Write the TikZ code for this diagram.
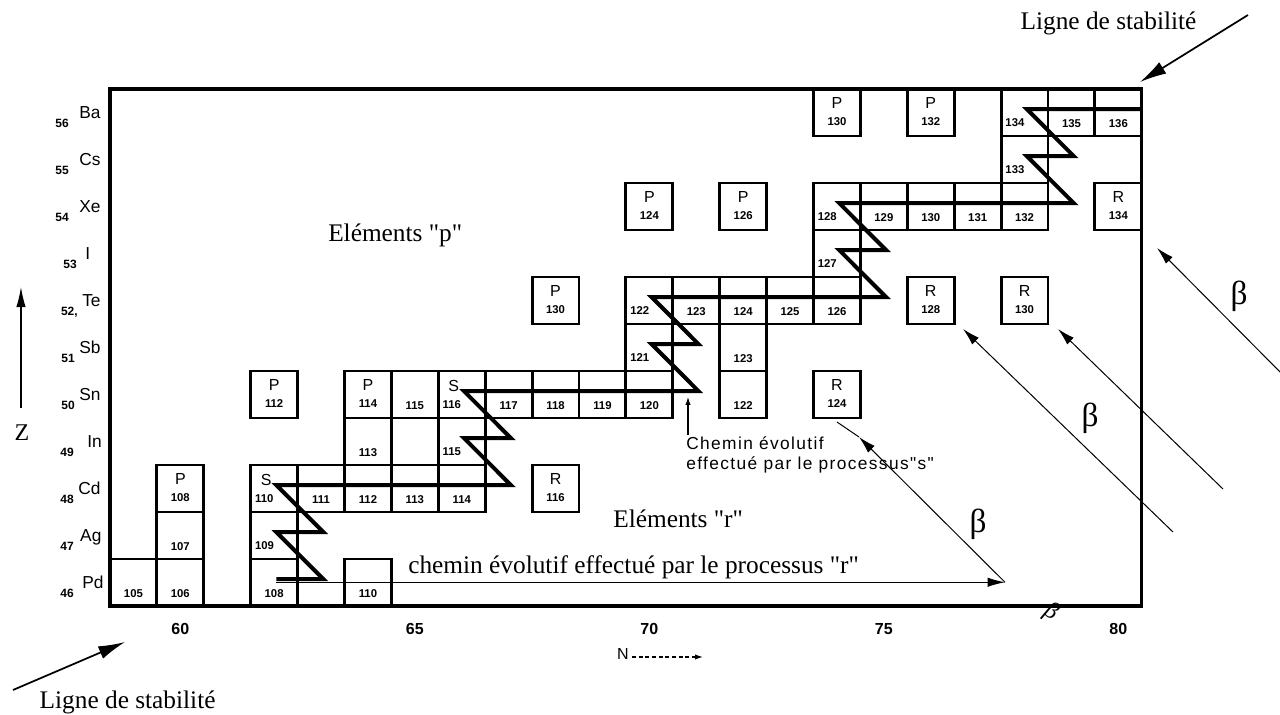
\documentclass[tikz,border=0pt]{standalone}
\usepackage{fontspec}
\setmainfont{Liberation Serif}[Ligatures=TeXOff]
\newfontfamily\sansf{Liberation Sans}
\newfontfamily\chemf{Liberation Sans}[LetterSpace=8]
\usetikzlibrary{arrows.meta}
\begin{document}
\begin{tikzpicture}[x=35.175pt,y=35.25pt,
 cellbox/.style={draw,line width=2.2pt,minimum width=35.175pt,minimum height=35.25pt,inner sep=0pt,outer sep=0pt},
 cnum/.style={font=\sansf\bfseries\fontsize{8.5}{9}\selectfont,inner sep=0pt,anchor=base},
 cnuml/.style={cnum,anchor=base west},
 clet/.style={font=\sansf\fontsize{12}{13}\selectfont,inner sep=0pt,anchor=base},
 elem/.style={font=\sansf\fontsize{13}{14}\selectfont,inner sep=0pt,anchor=base west},
 znum/.style={font=\sansf\bfseries\fontsize{9}{10}\selectfont,inner sep=0pt,anchor=base east},
 nnum/.style={font=\sansf\bfseries\fontsize{12}{13}\selectfont,inner sep=0pt,anchor=base},
 serif/.style={font=\fontsize{19}{22}\selectfont,inner sep=0pt},
 betalbl/.style={font=\fontsize{25}{28}\selectfont,inner sep=0pt},
 spath/.style={line width=3pt},
 thinarrow/.style={line width=0.75pt,-{Latex[length=13pt,width=7pt]}},
 smallarrow/.style={line width=0.9pt,-{Latex[length=6pt,width=4pt]}},
 bigarrow/.style={line width=1.3pt,-{Latex[length=20pt,width=10pt]}},
]
\useasboundingbox (-2.3454,-2.3191) rectangle (24.9467,12.8936);
\fill[white] (-2.3454,-2.3191) rectangle (24.9467,12.8936);

% frame
\coordinate (fSW) at (0,0);
\coordinate (fNE) at (22,11);
\draw[line width=2.4pt] (fSW) rectangle (fNE);

% chain cells, centred numbers
\foreach \n/\z/\t in {59/46/105,60/46/106,62/46/108,64/46/110,60/47/107,63/48/111,64/48/112,65/48/113,66/48/114,64/49/113,65/49/{},65/50/115,67/50/117,68/50/118,69/50/119,70/50/120,72/50/122,72/51/123,71/52/123,72/52/124,73/52/125,74/52/126,75/54/129,76/54/130,77/54/131,78/54/132,79/56/135,80/56/136}{
  \node[cellbox] (c\n-\z) at ({\n-58.5},{\z-45.5}) {};
  \node[cnum] (t\n-\z) at ([yshift=-11pt]c\n-\z.center) {\t};
}
% chain cells, numbers on the left
\foreach \n/\z/\t in {62/47/109,62/48/110,66/49/115,66/50/116,70/51/121,70/52/122,74/53/127,74/54/128,78/55/133,78/56/134}{
  \node[cellbox] (c\n-\z) at ({\n-58.5},{\z-45.5}) {};
  \node[cnuml] (t\n-\z) at ([xshift=-14.5pt,yshift=-10.5pt]c\n-\z.center) {\t};
}
% lettered cells
\foreach \n/\z/\l/\t in {60/48/P/108,68/48/R/116,62/50/P/112,64/50/P/114,74/50/R/124,68/52/P/130,76/52/R/128,78/52/R/130,70/54/P/124,72/54/P/126,80/54/R/134,74/56/P/130,76/56/P/132}{
  \node[cellbox] (c\n-\z) at ({\n-58.5},{\z-45.5}) {};
  \node[clet] (l\n-\z) at ([yshift=3pt]c\n-\z.center) {\l};
  \node[cnum] (t\n-\z) at ([yshift=-9.75pt]c\n-\z.center) {\t};
}
\node[clet] (s62-48) at ([xshift=-6pt,yshift=1.9pt]c62-48.center) {S};
\node[clet] (s66-50) at ([xshift=-6pt,yshift=1.9pt]c66-50.center) {S};

% s-process path
\draw[spath] (3.55,0.57) -- (4.55,0.57) -- (3.55,1.57) -- (4.55,1.57) -- (3.55,2.57)
  -- (8.55,2.57) -- (7.55,3.57) -- (8.55,3.57) -- (7.55,4.57)
  -- (12.55,4.57) -- (11.55,5.57) -- (12.55,5.57) -- (11.55,6.57)
  -- (16.55,6.57) -- (15.55,7.57) -- (16.55,7.57) -- (15.55,8.57)
  -- (20.55,8.57) -- (19.55,9.57) -- (20.55,9.57) -- (19.55,10.57) -- (22,10.57);

% Z labels
\foreach \z/\e/\xn/\xe/\zt in {56/Ba/-0.874/-0.661/56,55/Cs/-0.874/-0.661/55,54/Xe/-0.874/-0.661/54,53/I/-0.704/-0.533/53,52/Te/-0.682/-0.597/{52,},51/Sb/-0.746/-0.661/51,50/Sn/-0.746/-0.661/50,49/In/-0.768/-0.490/49,48/Cd/-0.768/-0.682/48,47/Ag/-0.768/-0.640/47,46/Pd/-0.768/-0.597/46}{
  \node[elem] (el\z) at (\xe,{\z-45.628}) {\e};
  \node[znum] (zn\z) at (\xn,{\z-45.819}) {\zt};
}
% Z axis
\coordinate (zfoot) at (-1.898,4.213);
\coordinate (ztip) at (-1.898,6.787);
\draw[line width=0.9pt,-{Latex[length=15pt,width=7pt]}] (zfoot) -- (ztip);
\node[serif,font=\fontsize{18}{20}\selectfont] (zlbl) at (-1.876,3.681) {Z};

% N labels
\foreach \n in {60,65,70,75,80}{
  \node[nnum] (nn\n) at ({\n-58.5},-0.596) {\n};
}
\node[font=\sansf\fontsize{12}{13}\selectfont,inner sep=0pt,anchor=base] (nlbl) at (10.938,-1.149) {N};
\coordinate (nfoot) at (11.13,-1.085);
\coordinate (ntip) at (12.644,-1.085);
\draw[line width=0.9pt,densely dashed,-{Latex[length=6pt,width=4pt]}] (nfoot) -- (ntip);

% texts
\node[serif,anchor=base west] (ep) at (4.648,7.745) {Eléments "p"};
\node[serif,anchor=base west] (er) at (10.725,1.660) {Eléments "r"};
\node[serif,anchor=base west] (rtxt) at (6.354,0.70) {chemin évolutif effectué par le processus "r"};
\node[font=\chemf\fontsize{13}{15}\selectfont,align=left,anchor=north west,inner sep=0pt] (chem) at (12.281,3.60) {Chemin évolutif\\effectué par le processus"s"};
\coordinate (chemfoot) at (12.324,3.64);
\coordinate (chemtip) at (12.324,4.45);
\draw[smallarrow] (chemfoot) -- (chemtip);

% r-process path
\coordinate (rstart) at (3.55,0.505);
\coordinate (rend) at (19.083,0.505);
\draw[thinarrow] (rstart) -- (rend);

% beta arrows
\coordinate (b1tip) at (15.97,3.596);
\coordinate (b1end) at (15.50,3.915);
\draw[thinarrow] (rend) -- (b1tip);
\draw[line width=0.75pt] (b1tip) -- (b1end);
\coordinate (b2tail) at (22.665,1.574);
\coordinate (b2tip) at (18.188,5.894);
\draw[thinarrow] (b2tail) -- (b2tip);
\coordinate (b3tail) at (23.731,2.489);
\coordinate (b3tip) at (20.213,5.894);
\draw[thinarrow] (b3tail) -- (b3tip);
\coordinate (b4tail) at (24.947,4.979);
\coordinate (b4tip) at (22.324,7.617);
\draw[thinarrow] (b4tail) -- (b4tip);
\node[betalbl] (beta1) at (18.507,1.745) {β};
\node[betalbl] (beta2) at (20.896,4.0) {β};
\node[betalbl] (beta3) at (24.072,6.596) {β};
\node[font=\itshape\fontsize{18}{20}\selectfont,inner sep=0pt,rotate=-30] (beta4) at (20.064,-0.128) {β};

% lignes de stabilite
\node[serif,anchor=base] (ls1) at (21.29,12.27) {Ligne de stabilité};
\coordinate (ls1tail) at (24.264,12.574);
\coordinate (ls1tip) at (21.962,11.149);
\draw[bigarrow] (ls1tail) -- (ls1tip);
\node[serif,anchor=base] (ls2) at (0.375,-2.191) {Ligne de stabilité};
\coordinate (ls2tail) at (-2.068,-1.787);
\coordinate (ls2tip) at (0.320,-0.766);
\draw[bigarrow] (ls2tail) -- (ls2tip);
\end{tikzpicture}
\end{document}
